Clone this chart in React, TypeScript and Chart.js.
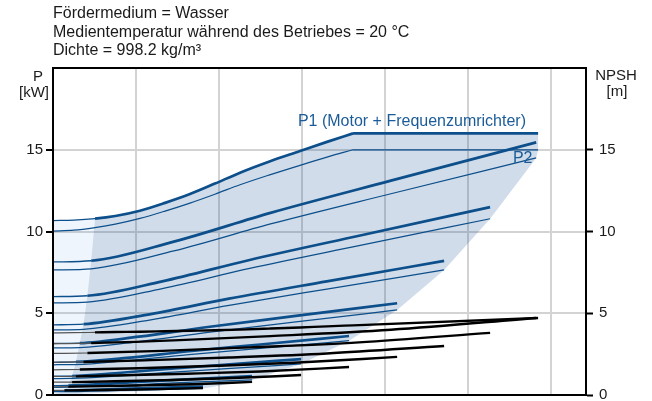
import React, { useEffect, useRef } from 'react';
import { Chart, registerables } from 'chart.js';

Chart.register(...registerables);

// ---------- texts ----------
const HEADER = [
  'Fördermedium = Wasser',
  'Medientemperatur während des Betriebes = 20 °C',
  'Dichte = 998.2 kg/m³',
];
const LEFT_UNIT = ['P', '[kW]'];
const RIGHT_UNIT = ['NPSH', '[m]'];
const P1_LABEL = 'P1 (Motor + Frequenzumrichter)';
const P2_LABEL = 'P2';
const Y_TICKS = [0, 5, 10, 15, 20];
const X_GRID = [0, 1, 2, 3, 4, 5, 6];

// ---------- data ----------
const SPEEDS = ['110 %', '100 %', '90 %', '80 %', '70 %', '60 %', '50 %', '40 %', '30 %'];
// minimum flow of each speed
const Q_MIN = [0.506, 0.46, 0.414, 0.368, 0.322, 0.276, 0.23, 0.184, 0.138];
// flow points of each speed curve
const Q = [
  [0, 0.25, 0.506, 0.75, 1.048, 1.35, 1.65, 1.95, 2.253, 2.6, 2.976, 3.3, 3.614, 5.843],
  [0, 0.46, 1.455, 2.62, 4.07, 5.82],
  [0, 0.414, 1.316, 2.369, 3.686, 5.265],
  [0, 0.368, 1.178, 2.12, 3.298, 4.711],
  [0, 0.322, 1.036, 1.865, 2.9, 4.145],
  [0, 0.276, 0.892, 1.605, 2.496, 3.566],
  [0, 0.23, 0.747, 1.345, 2.092, 2.988],
  [0, 0.184, 0.6, 1.079, 1.679, 2.398],
  [0, 0.138, 0.452, 0.813, 1.265, 1.807],
];
// P1 (motor + frequency converter) [kW]
const P1 = [
  [10.67, 10.7, 10.79, 10.95, 11.27, 11.75, 12.29, 12.93, 13.6, 14.27, 14.92, 15.48, 16.0, 16.0],
  [8.14, 8.21, 9.38, 11.14, 13.11, 15.45],
  [6.02, 6.07, 6.95, 8.26, 9.74, 11.49],
  [4.29, 4.33, 4.95, 5.89, 6.95, 8.2],
  [3.15, 3.17, 3.57, 4.16, 4.82, 5.61],
  [2.0, 2.02, 2.27, 2.66, 3.09, 3.61],
  [1.15, 1.16, 1.33, 1.58, 1.86, 2.2],
  [0.57, 0.58, 0.67, 0.81, 0.97, 1.16],
  [0.27, 0.27, 0.31, 0.37, 0.44, 0.52],
];
// P2 (shaft power) [kW]
const P2 = [
  [10.03, 10.08, 10.24, 10.45, 10.8, 11.25, 11.74, 12.28, 12.86, 13.45, 14.05, 14.55, 15.0, 15.0],
  [7.65, 7.72, 8.81, 10.46, 12.31, 14.5],
  [5.63, 5.68, 6.51, 7.74, 9.13, 10.78],
  [3.98, 4.02, 4.6, 5.48, 6.48, 7.65],
  [2.88, 2.9, 3.27, 3.83, 4.46, 5.2],
  [1.85, 1.86, 2.1, 2.45, 2.85, 3.32],
  [1.0, 1.01, 1.15, 1.37, 1.61, 1.9],
  [0.47, 0.48, 0.55, 0.65, 0.78, 0.92],
  [0.2, 0.2, 0.23, 0.28, 0.33, 0.4],
];
// NPSH [m]
const NPSH = [
  [3.8, 3.81, 3.83, 3.85, 3.87, 3.9, 3.93, 3.96, 4.0, 4.06, 4.13, 4.2, 4.26, 4.71],
  [3.14, 3.17, 3.34, 3.6, 3.99, 4.71],
  [2.54, 2.57, 2.7, 2.91, 3.22, 3.8],
  [2.0, 2.02, 2.13, 2.29, 2.54, 3.0],
  [1.54, 1.56, 1.64, 1.77, 1.97, 2.33],
  [1.13, 1.14, 1.21, 1.3, 1.44, 1.71],
  [0.785, 0.79, 0.84, 0.91, 1.02, 1.22],
  [0.5, 0.51, 0.54, 0.59, 0.66, 0.8],
  [0.28, 0.28, 0.3, 0.32, 0.36, 0.43],
];

const FONT = '"Liberation Sans", Arial, Helvetica, sans-serif';
const BLUE = '#0d4f8b';
const LABEL_BLUE = '#1b5c98';
const GRID = '#d3d3d3';
const TEXT = '#1a1a1a';

const pts = (xs: number[], ys: number[]) => xs.map((x, i) => ({ x, y: ys[i] }));

const textPlugin = {
  id: 'pumpTexts',
  afterDraw(chart: any) {
    const { ctx, chartArea, scales } = chart;
    ctx.save();
    ctx.fillStyle = TEXT;
    ctx.textBaseline = 'alphabetic';
    ctx.textAlign = 'left';
    ctx.font = `16px ${FONT}`;
    HEADER.forEach((t, i) => ctx.fillText(t, chartArea.left, 18 + i * 18.5));
    ctx.font = `15px ${FONT}`;
    ctx.textAlign = 'center';
    ctx.fillText(LEFT_UNIT[0], chartArea.left - 15, 81);
    ctx.fillText(LEFT_UNIT[1], chartArea.left - 19, 97);
    ctx.fillText(RIGHT_UNIT[0], chartArea.right + 30, 80);
    ctx.fillText(RIGHT_UNIT[1], chartArea.right + 31, 96);
    ctx.fillStyle = LABEL_BLUE;
    ctx.font = `16px ${FONT}`;
    ctx.textAlign = 'left';
    ctx.fillText(P1_LABEL, scales.x.getPixelForValue(2.95), scales.y.getPixelForValue(16.45));
    ctx.fillText(P2_LABEL, scales.x.getPixelForValue(5.54), scales.y.getPixelForValue(14.2));
    ctx.restore();
  },
};

export default function App() {
  const ref = useRef<HTMLCanvasElement>(null);

  useEffect(() => {
    if (!ref.current) return;
    const minIdx = Q.map((q, k) => q.indexOf(Q_MIN[k]));
    const n = Q.length;

    // operating range polygon
    const gray: { x: number; y: number }[] = [];
    Q[0].forEach((x, i) => {
      if (x >= Q_MIN[0]) gray.push({ x, y: P1[0][i] });
    });
    for (let k = 0; k < n; k++) {
      const l = Q[k].length - 1;
      gray.push({ x: Q[k][l], y: P2[k][l] });
    }
    gray.push({ x: 0, y: 0 });
    for (let k = n - 1; k >= 0; k--) gray.push({ x: Q_MIN[k], y: P1[k][minIdx[k]] });

    // below minimum flow polygon
    const light: { x: number; y: number }[] = [{ x: 0, y: 0 }];
    Q[0].forEach((x, i) => {
      if (x <= Q_MIN[0]) light.push({ x, y: P1[0][i] });
    });
    for (let k = 1; k < n; k++) light.push({ x: Q_MIN[k], y: P1[k][minIdx[k]] });
    light.push({ x: 0, y: 0 });

    const datasets: any[] = [
      {
        label: 'range',
        data: gray,
        fill: 'shape',
        backgroundColor: 'rgba(20, 80, 150, 0.2)',
        borderColor: 'rgba(0,0,0,0)',
        borderWidth: 1,
        tension: 0,
        order: 10,
      },
      {
        label: 'minflow',
        data: light,
        fill: 'shape',
        backgroundColor: 'rgba(60, 140, 230, 0.085)',
        borderColor: 'rgba(0,0,0,0)',
        borderWidth: 1,
        tension: 0,
        order: 10,
      },
    ];

    // the power-limited top speed has a sharp knee: split it there
    const kneeIdx = P1[0].indexOf(Math.max(...P1[0]));

    for (let k = 0; k < n; k++) {
      const qmin = Q_MIN[k];
      const ranges: [number, number, boolean][] =
        k === 0
          ? [
              [0, kneeIdx + 1, true],
              [kneeIdx, Q[0].length, false],
            ]
          : [[0, Q[k].length, true]];
      ranges.forEach(([a, b, smooth]) => {
        const xs = Q[k].slice(a, b);
        const interp = smooth ? { cubicInterpolationMode: 'monotone' } : { tension: 0 };
        datasets.push({
          label: `P1 ${SPEEDS[k]}`,
          data: pts(xs, P1[k].slice(a, b)),
          borderColor: BLUE,
          borderWidth: 2.6,
          fill: false,
          order: 2,
          ...interp,
          segment: {
            borderWidth: (c: any) => (c.p1.parsed.x <= qmin + 1e-9 ? 1.3 : 2.7),
          },
        });
        datasets.push({
          label: `P2 ${SPEEDS[k]}`,
          data: pts(xs, P2[k].slice(a, b)),
          borderColor: BLUE,
          borderWidth: 1.25,
          fill: false,
          order: 2,
          ...interp,
        });
        datasets.push({
          label: `NPSH ${SPEEDS[k]}`,
          data: pts(xs, NPSH[k].slice(a, b)),
          yAxisID: 'y2',
          borderColor: '#000',
          borderWidth: 2.4,
          fill: false,
          order: 1,
          ...interp,
          segment: {
            borderWidth: (c: any) => (c.p1.parsed.x <= qmin + 1e-9 ? 1.2 : 2.4),
            borderColor: (c: any) => (c.p1.parsed.x <= qmin + 1e-9 ? '#555' : '#000'),
          },
        });
      });
    }

    const yTickFont = { family: FONT, size: 15 };
    const noPad = (s: any) => {
      s.paddingTop = 0;
      s.paddingBottom = 0;
      s.paddingLeft = 0;
      s.paddingRight = 0;
    };

    const chart = new Chart(ref.current, {
      type: 'line',
      data: { datasets },
      plugins: [textPlugin],
      options: {
        animation: false,
        responsive: true,
        maintainAspectRatio: false,
        events: [],
        layout: { padding: { top: 68, left: 0, right: 0, bottom: 0 } },
        elements: { point: { radius: 0 }, line: { borderCapStyle: 'butt' } },
        plugins: { legend: { display: false }, tooltip: { enabled: false }, title: { display: false } },
        scales: {
          x: {
            type: 'linear',
            min: 0,
            max: 6.42,
            afterBuildTicks: (s: any) => {
              s.ticks = X_GRID.map((v) => ({ value: v }));
            },
            afterFit: (s: any) => {
              s.height = 6;
              noPad(s);
            },
            ticks: { display: false },
            grid: {
              color: (c: any) => (c.tick && c.tick.value === 0 ? 'rgba(0,0,0,0)' : GRID),
              lineWidth: 2,
              drawTicks: false,
            },
            border: { display: true, color: '#000', width: 2, z: 1 },
          },
          y: {
            type: 'linear',
            position: 'left',
            min: 0,
            max: 20,
            afterBuildTicks: (s: any) => {
              s.ticks = Y_TICKS.map((v) => ({ value: v }));
            },
            afterFit: (s: any) => {
              s.width = 53;
              noPad(s);
            },
            ticks: {
              color: TEXT,
              font: yTickFont,
              padding: 3,
              callback: (v: any) => (v === 20 ? '' : String(v)),
            },
            grid: {
              color: (c: any) =>
                c.tick && c.tick.value === 20 ? '#000' : c.tick && c.tick.value === 0 ? 'rgba(0,0,0,0)' : GRID,
              lineWidth: 2,
              tickColor: (c: any) => (c.tick && c.tick.value === 20 ? 'rgba(0,0,0,0)' : '#000'),
              tickLength: 7,
              tickWidth: 2,
            },
            border: { display: true, color: '#000', width: 2, z: 1 },
          },
          y2: {
            type: 'linear',
            position: 'right',
            min: 0,
            max: 20,
            afterBuildTicks: (s: any) => {
              s.ticks = Y_TICKS.map((v) => ({ value: v }));
            },
            afterFit: (s: any) => {
              s.width = 66;
              noPad(s);
            },
            ticks: {
              color: TEXT,
              font: yTickFont,
              padding: 6,
              callback: (v: any) => (v === 20 ? '' : String(v)),
            },
            grid: {
              drawOnChartArea: false,
              tickColor: (c: any) => (c.tick && c.tick.value === 20 ? 'rgba(0,0,0,0)' : '#000'),
              tickLength: 7,
              tickWidth: 2,
            },
            border: { display: true, color: '#000', width: 2, z: 1 },
          },
        },
      } as any,
    });
    return () => chart.destroy();
  }, []);

  return (
    <div style={{ position: 'fixed', left: 0, top: 0, width: 652, height: 401, background: '#fff' }}>
      <canvas ref={ref} style={{ display: 'block', width: '100%', height: '100%' }} />
    </div>
  );
}
